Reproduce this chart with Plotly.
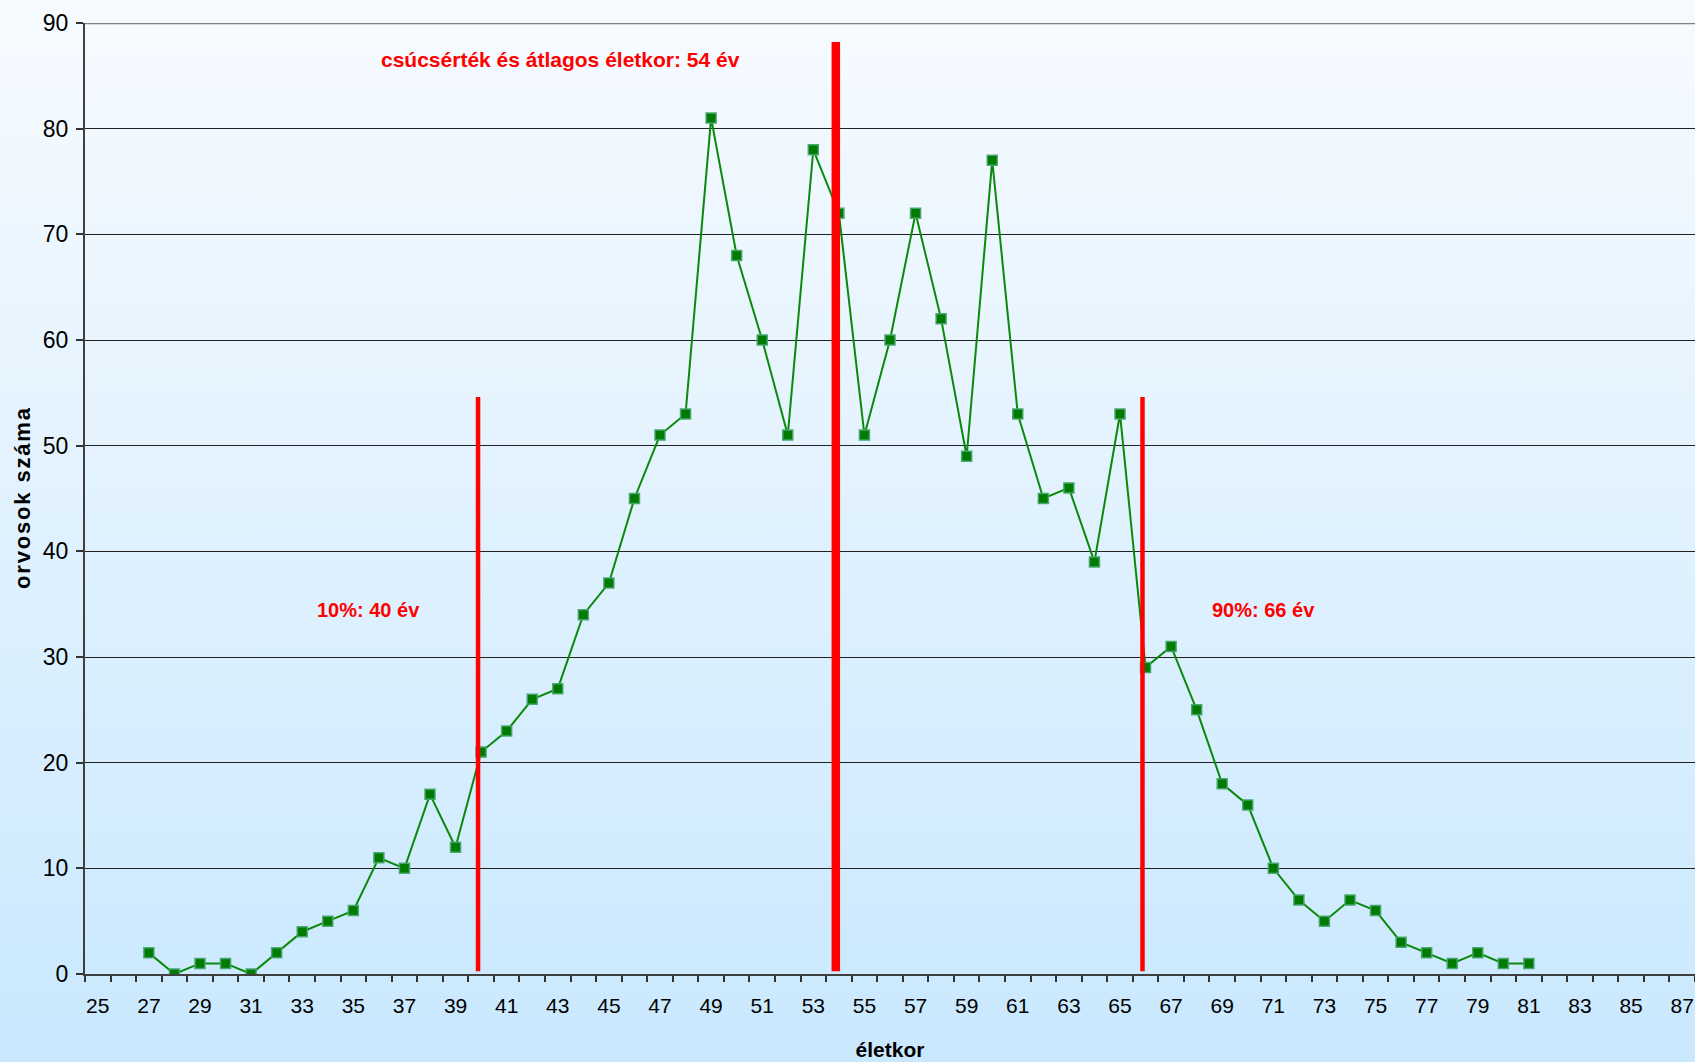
import base64
import plotly.graph_objects as go

ages = list(range(27, 82))
counts = [2, 0, 1, 1, 0, 2, 4, 5, 6, 11, 10, 17, 12, 21, 23, 26, 27, 34, 37, 45,
          51, 53, 81, 68, 60, 51, 78, 72, 51, 60, 72, 62, 49, 77, 53, 45, 46, 39,
          53, 29, 31, 25, 18, 16, 10, 7, 5, 7, 6, 3, 2, 1, 2, 1, 1]

x_tick_vals = list(range(25, 88, 2))
y_tick_vals = list(range(0, 91, 10))

marker_lines = [40, 54, 66]
marker_line_tops = [54.6, 88.2, 54.6]

label_texts = ["10%: 40 év", "csúcsérték és átlagos életkor: 54 év", "90%: 66 év"]

W, H = 1695, 1062
ML, MR, MT, MB = 85, 0, 23, 88
PW, PH = W - ML - MR, H - MT - MB

svg = ('<svg xmlns="http://www.w3.org/2000/svg" width="100" height="100" preserveAspectRatio="none">'
       '<defs><linearGradient id="g" x1="0" y1="0" x2="0" y2="1">'
       '<stop offset="0" stop-color="#F7FBFF"/><stop offset="1" stop-color="#C9E8FE"/>'
       '</linearGradient></defs><rect width="100" height="100" fill="url(#g)"/></svg>')
svg_uri = "data:image/svg+xml;base64," + base64.b64encode(svg.encode()).decode()

fig = go.Figure()
fig.add_trace(go.Scatter(
    x=ages, y=counts, mode="lines+markers",
    line=dict(color="#0A8A0A", width=2),
    marker=dict(symbol="square", size=10, color="#007A00",
                line=dict(color="rgba(70,165,110,0.95)", width=1.5)),
    showlegend=False, hoverinfo="x+y",
))

shapes = []
for xv, top, w in zip(marker_lines, marker_line_tops, [4.5, 8.5, 4.5]):
    shapes.append(dict(type="line", xref="x", yref="y", x0=xv - 0.12, x1=xv - 0.12,
                       y0=0.25, y1=top, line=dict(color="#FF0000", width=w), layer="above"))
shapes.append(dict(type="line", xref="paper", yref="y", x0=0, x1=1, y0=90, y1=90,
                   line=dict(color="#808080", width=2.5), layer="above"))

red_font = dict(family="Liberation Sans, Arial", size=20, color="#FF0000")
annotations = [
    dict(x=35.6, y=34.45, xref="x", yref="y", text="<b>" + label_texts[0] + "</b>", showarrow=False,
         font=red_font),
    dict(x=43.1, y=86.5, xref="x", yref="y", text="<b>" + label_texts[1] + "</b>", showarrow=False,
         font=dict(red_font, size=21)),
    dict(x=70.6, y=34.45, xref="x", yref="y", text="<b>" + label_texts[2] + "</b>", showarrow=False,
         font=red_font),
]

fig.update_layout(
    width=W, height=H,
    margin=dict(l=ML, r=MR, t=MT, b=MB),
    paper_bgcolor="#E4F2FE",
    plot_bgcolor="#FFFFCC",
    shapes=shapes,
    annotations=annotations,
    images=[dict(source=svg_uri, xref="paper", yref="paper",
                 x=-ML / PW, y=1 + MT / PH, sizex=W / PW, sizey=H / PH,
                 xanchor="left", yanchor="top", sizing="stretch", layer="below")],
    xaxis=dict(
        range=[24.5, 87.5], tickmode="array", tickvals=x_tick_vals,
        ticktext=[str(v) for v in x_tick_vals], ticks="", showgrid=False, zeroline=False,
        showline=True, linecolor="#404040", linewidth=2,
        tickfont=dict(family="Liberation Sans, Arial", size=21, color="#000"),
        ticklabelstandoff=12,
        minor=dict(tickmode="linear", tick0=24.5, dtick=1, ticks="outside", ticklen=6,
                   tickcolor="#333", tickwidth=1.5, showgrid=False),
        title=dict(text="<b>életkor</b>", font=dict(family="Liberation Sans, Arial", size=21, color="#000"),
                   standoff=26),
        fixedrange=True,
    ),
    yaxis=dict(
        range=[0, 90], tickmode="array", tickvals=y_tick_vals, ticks="outside", ticklen=7,
        tickcolor="#333", tickwidth=1.5,
        showgrid=True, gridcolor="#222222", gridwidth=1, zeroline=False,
        showline=True, linecolor="#404040", linewidth=2,
        tickfont=dict(family="Liberation Sans, Arial", size=23, color="#000"),
        ticklabelstandoff=3,
        title=dict(text="<b>" + "\u200A".join("orvosok száma") + "</b>",
                   font=dict(family="Liberation Sans, Arial", size=22, color="#000"), standoff=6),
        fixedrange=True,
    ),
)

fig.write_html("out.html", config={"displayModeBar": False},
               post_script="document.body.style.margin='0';")
